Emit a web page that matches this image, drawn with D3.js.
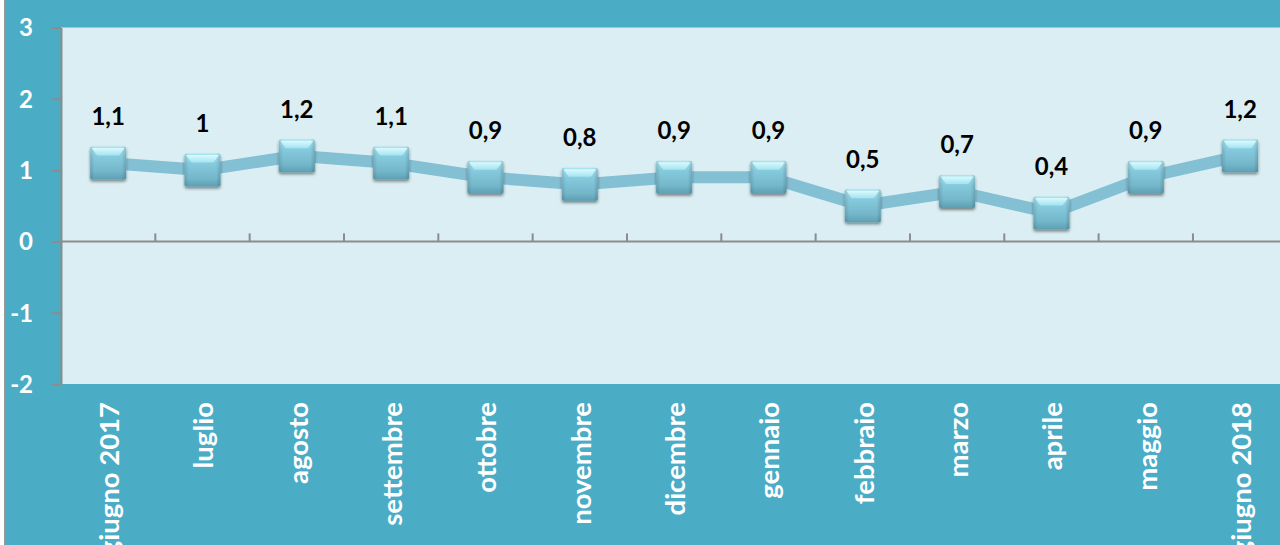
<!DOCTYPE html>
<html>
<head>
<meta charset="utf-8">
<script src="https://cdn.jsdelivr.net/npm/d3@7"></script>
<style>
  html, body { margin: 0; padding: 0; background: #fff; }
  svg { display: block; }
</style>
</head>
<body>
<svg id="chart" width="1280" height="545"></svg>
<script>
// data
const months = ["giugno 2017", "luglio", "agosto", "settembre", "ottobre", "novembre",
  "dicembre", "gennaio", "febbraio", "marzo", "aprile", "maggio", "giugno 2018"];
const values = [1.1, 1, 1.2, 1.1, 0.9, 0.8, 0.9, 0.9, 0.5, 0.7, 0.4, 0.9, 1.2];
const yTicks = [3, 2, 1, 0, -1, -2];

const svg = d3.select("#chart");
const W = 1280, H = 545;
const margin = { top: 27.5, left: 61, bottom: 161 };
const plotH = H - margin.top - margin.bottom; // 356.5
const bandW = 94.33;
const font = "Lato, 'Open Sans', sans-serif";

// outer frame
svg.append("rect").attr("width", W).attr("height", H).attr("fill", "#fff");
svg.append("rect").attr("x", 5).attr("width", W - 5).attr("height", H).attr("fill", "#4BACC6");
svg.append("line").attr("x1", 5).attr("x2", 5).attr("y1", 0).attr("y2", H)
  .attr("stroke", "#969696").attr("stroke-width", 2);

const defs = svg.append("defs");
const grad = defs.append("linearGradient").attr("id", "mk").attr("x1", 0).attr("y1", 0).attr("x2", 0).attr("y2", 1);
grad.append("stop").attr("offset", "0%").attr("stop-color", "#a9e6f2");
grad.append("stop").attr("offset", "30%").attr("stop-color", "#86cadd");
grad.append("stop").attr("offset", "75%").attr("stop-color", "#74b7cb");
grad.append("stop").attr("offset", "100%").attr("stop-color", "#5d9fb3");
const hi = defs.append("linearGradient").attr("id", "hi").attr("x1", 0).attr("y1", 0).attr("x2", 0).attr("y2", 1);
hi.append("stop").attr("offset", "0%").attr("stop-color", "#e6fdff");
hi.append("stop").attr("offset", "100%").attr("stop-color", "#a6e8f5");
const side = defs.append("linearGradient").attr("id", "side").attr("x1", 0).attr("y1", 0).attr("x2", 1).attr("y2", 0);
side.append("stop").attr("offset", "0%").attr("stop-color", "#000").attr("stop-opacity", 0.12);
side.append("stop").attr("offset", "12%").attr("stop-color", "#000").attr("stop-opacity", 0);
side.append("stop").attr("offset", "88%").attr("stop-color", "#000").attr("stop-opacity", 0);
side.append("stop").attr("offset", "100%").attr("stop-color", "#000").attr("stop-opacity", 0.15);
const shadow = defs.append("filter").attr("id", "sh").attr("x", "-30%").attr("y", "-30%").attr("width", "160%").attr("height", "160%");
shadow.append("feDropShadow").attr("dx", 0).attr("dy", 2).attr("stdDeviation", 1.8)
  .attr("flood-color", "#000").attr("flood-opacity", 0.45);

const g = svg.append("g").attr("transform", `translate(${margin.left},${margin.top})`);

const x = d3.scaleBand().domain(months).range([0, bandW * months.length]);
const y = d3.scaleLinear().domain([-2, 3]).range([plotH, 0]);

// plot background
g.append("rect").attr("width", W - margin.left).attr("height", plotH).attr("fill", "#DAEEF3");

// y axis
const yAxis = g.append("g")
  .call(d3.axisLeft(y).tickValues(yTicks).tickSize(9).tickSizeOuter(0).tickPadding(19)
    .tickFormat(d => String(d)));
yAxis.select(".domain").attr("stroke", "#8c8c8c").attr("stroke-width", 2);
yAxis.selectAll(".tick line").attr("stroke", "#8c8c8c").attr("stroke-width", 2);
yAxis.selectAll(".tick text")
  .attr("fill", "#fff").attr("font-family", font)
  .attr("font-weight", "bold").attr("font-size", 24)
  .attr("dy", "0.35em");

// x axis at zero
const xAxis = g.append("g").attr("transform", `translate(0,${y(0)})`);
xAxis.append("line").attr("x1", 0).attr("x2", W - margin.left)
  .attr("stroke", "#8c8c8c").attr("stroke-width", 2);
xAxis.selectAll(".xt").data(months.slice(1)).join("line")
  .attr("x1", d => x(d)).attr("x2", d => x(d))
  .attr("y1", 0).attr("y2", -8)
  .attr("stroke", "#8c8c8c").attr("stroke-width", 2);

// category labels below the plot
g.append("g").selectAll("text").data(months).join("text")
  .attr("transform", d => `translate(${x(d) + x.bandwidth() / 2 + 11},${plotH + 18}) rotate(-90)`)
  .attr("text-anchor", "end")
  .attr("fill", "#fff").attr("font-family", font)
  .attr("font-weight", "bold").attr("font-size", 27.5)
  .text(d => d);

const cx = (d, i) => x(months[i]) + x.bandwidth() / 2;

// line
g.append("path").datum(values)
  .attr("fill", "none").attr("stroke", "#84c0d4").attr("stroke-width", 12)
  .attr("d", d3.line().x(cx).y(d => y(d)));

// markers
const mw = 36, mh = 33;
const mk = g.append("g").selectAll("g").data(values).join("g")
  .attr("transform", (d, i) => `translate(${cx(d, i) - mw / 2},${y(d) - mh / 2})`);
mk.append("rect").attr("width", mw).attr("height", mh).attr("rx", 2)
  .attr("fill", "url(#mk)").attr("filter", "url(#sh)");
mk.append("rect").attr("width", mw).attr("height", mh).attr("rx", 2)
  .attr("fill", "url(#side)");
mk.append("path").attr("d", `M1.5,1.5 L${mw - 1.5},1.5 L${mw - 7},9 L7,9 Z`)
  .attr("fill", "url(#hi)").attr("opacity", 0.85);

// data labels
g.append("g").selectAll("text").data(values).join("text")
  .attr("x", cx).attr("y", d => y(d) - 38)
  .attr("text-anchor", "middle")
  .attr("font-family", font)
  .attr("font-weight", "bold").attr("font-size", 24).attr("fill", "#000")
  .text(d => String(d).replace(".", ","));
</script>
</body>
</html>
